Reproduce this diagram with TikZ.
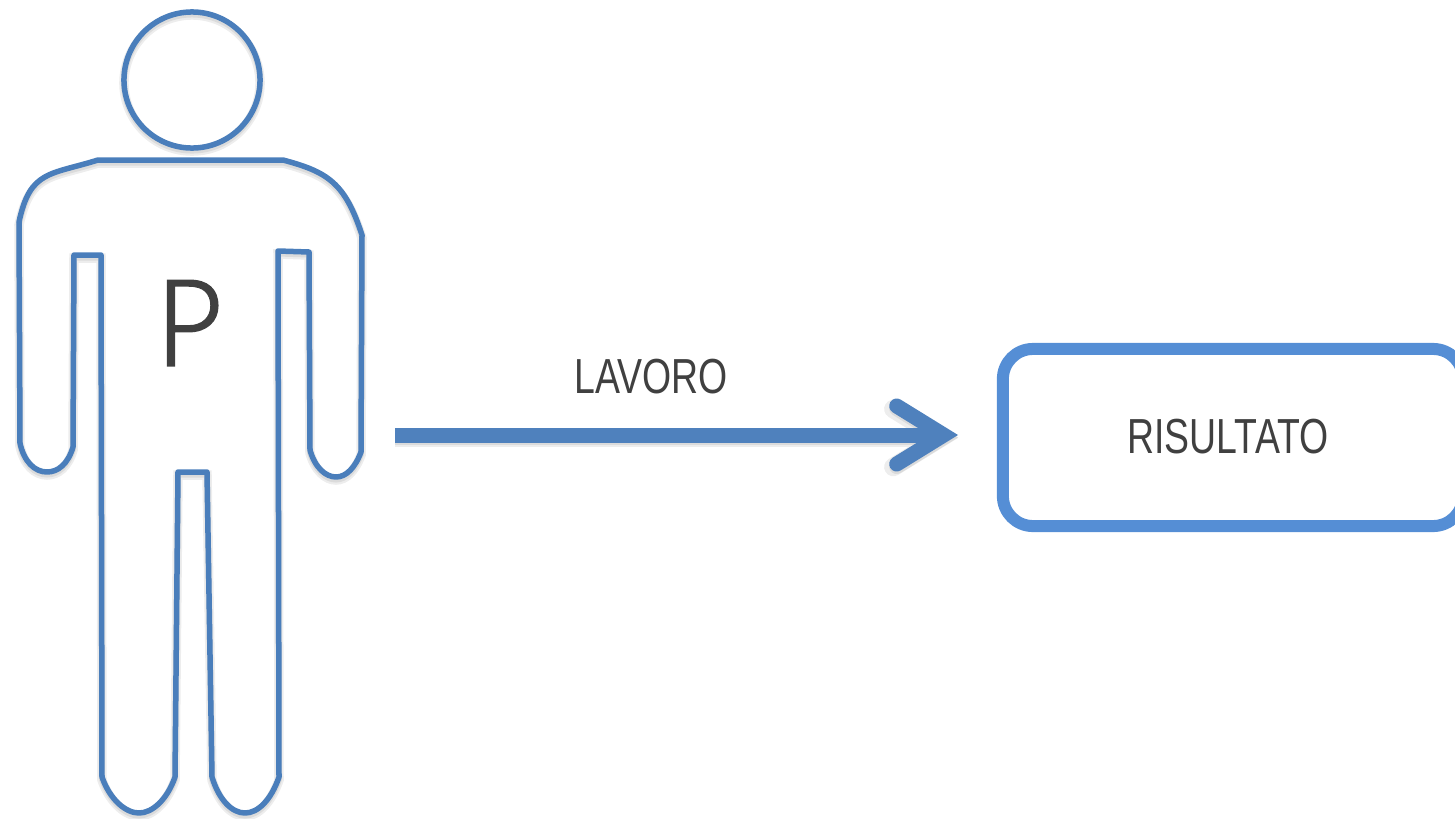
\documentclass[tikz,border=0pt]{standalone}
\usepackage{fontspec}
\setmainfont{Liberation Sans}[FakeStretch=0.76]
\newfontfamily\bigfont{Lato Light}[FakeBold=2, FakeStretch=0.95]
\usepackage{tikz}
\usetikzlibrary{arrows.meta}
\definecolor{figblue}{HTML}{4A7EBB}
\definecolor{arrowblue}{HTML}{4F81BD}
\definecolor{boxblue}{HTML}{558ED5}
\definecolor{textgray}{HTML}{404040}
\tikzset{
    softshadow/.style={
        preaction={draw=black!7, line width=#1+0.035cm, transform canvas={yshift=-0.03cm}},
        preaction={draw=black!14, line width=#1, transform canvas={yshift=-0.025cm}}},
    figline/.style={draw=figblue, line width=0.055cm, line join=round, softshadow=0.06cm},
    labeltext/.style={text=textgray, font=\fontsize{14}{16}\selectfont, inner sep=0pt}
}

\begin{document}
\begin{tikzpicture}[x=0.01cm, y=-0.01cm]
    \useasboundingbox (0,0) rectangle (1455,818);

    % Head
    \draw[figline] (192,80) circle (0.68cm);

    % Body
    \draw[figline] (98,160) -- (283,160) .. controls (328,172) and (345,183) .. (362,235)
        -- (361,452) .. controls (355,468) and (346,477) .. (336,477)
        .. controls (326,477) and (315,468) .. (310,450)
        -- (309,252) -- (278,251) -- (279,777)
        .. controls (271,800) and (258,813) .. (245,813)
        .. controls (232,813) and (219,800) .. (212,777)
        -- (207,472) -- (178,472) -- (175,777)
        .. controls (167,800) and (152,813) .. (139,813)
        .. controls (126,813) and (110,800) .. (102,777)
        -- (101,255) -- (74,255) -- (73,447)
        .. controls (68,464) and (58,472) .. (47,472)
        .. controls (35,472) and (24,462) .. (20,443)
        -- (19,222) .. controls (30,170) and (50,175) .. cycle;
    \node[text=textgray, font=\bigfont\fontsize{34}{37}\selectfont, inner sep=0pt] (p) at (189,323) {P};

    % Result
    \node[draw=boxblue, line width=0.12cm, rounded corners=0.3cm, minimum width=4.6cm, minimum height=1.77cm, outer sep=0pt] (result) at (1233,437.5) {};
    \node[labeltext] (risultato) at (1228,436.5) {RISULTATO};

    % Work arrow
    \coordinate (start) at (395,435);
    \coordinate (tip) at (958,435);
    \draw[draw=arrowblue, line width=0.15cm, -{Straight Barb[length=0.47cm, width=0.58cm, line cap=round, line join=miter]}, softshadow=0.15cm] (start) -- (tip);
    \node[labeltext] (lavoro) at (651,377) {LAVORO};
\end{tikzpicture}
\end{document}
